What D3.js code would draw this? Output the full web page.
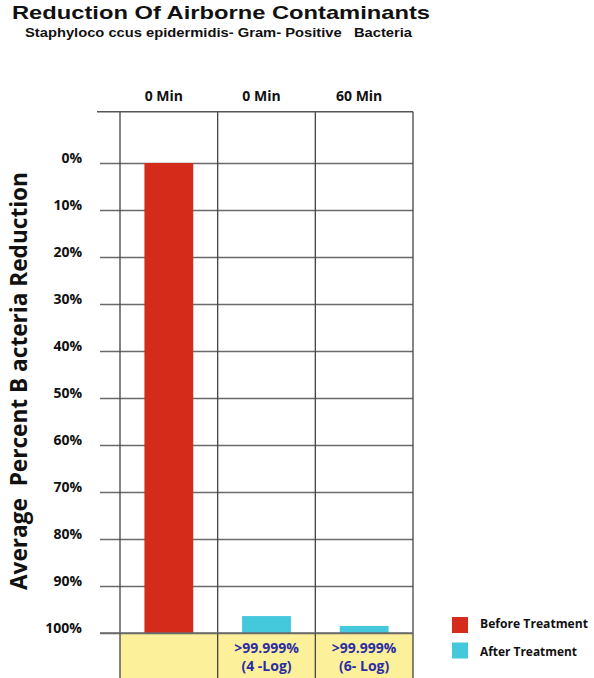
<!DOCTYPE html>
<html>
<head>
<meta charset="utf-8">
<script src="https://cdn.jsdelivr.net/npm/d3@7/dist/d3.min.js"></script>
<style>
  html, body { margin: 0; padding: 0; background: #fff; }
  svg { display: block; }
  text { font-family: "Open Sans", "Noto Sans", sans-serif; font-weight: 700; }
  text.head { font-family: "Liberation Sans", Arial, sans-serif; }
</style>
</head>
<body>
<svg id="chart" width="594" height="678"></svg>
<script>
// ---- data ----
const titleText = "Reduction Of Airborne Contaminants";
const subtitleText = "Staphyloco ccus epidermidis- Gram- Positive   Bacteria";
const yTitleText = "Average  Percent B acteria Reduction";
const categories = ["c1", "c2", "c3"];
const columnLabels = ["0 Min", "0 Min", "60 Min"];
const seriesNames = ["Before Treatment", "After Treatment"];
const barSeries = ["Before Treatment", "After Treatment", "After Treatment"];
const barValues = [100, 3.6, 1.5];   // bar height measured up from the 100% line
const yTicks = [0, 10, 20, 30, 40, 50, 60, 70, 80, 90, 100];
const bottomLabels = [[], [">99.999%", "(4 -Log)"], [">99.999%", "(6- Log)"]];

const colors = { "Before Treatment": "#d52b1a", "After Treatment": "#44c8dc" };

// ---- layout ----
const svg = d3.select("#chart");
const W = 594, H = 678;
const left = 120, right = 413;
const y = d3.scaleLinear().domain([0, 100]).range([163, 633]);
const topY = y(-10.9);
const xCol = d3.scaleBand().domain(categories).range([left, right]).padding(0);
const xBar = d3.scaleBand().domain(categories).range([left, right]).paddingInner(0.5).paddingOuter(0.25);

// yellow band
svg.append("rect").attr("x", left).attr("y", y(100)).attr("width", right - left)
  .attr("height", H - y(100)).attr("fill", "#fdf09b");

// horizontal grid / y axis
const yAxis = d3.axisLeft(y).tickValues(yTicks).tickFormat(d => d + "%")
  .tickSize(-(right - 100)).tickPadding(18);
const gy = svg.append("g").attr("transform", "translate(100,0)").call(yAxis);
gy.select(".domain").remove();
gy.selectAll(".tick line").attr("stroke", "#6a6a6a").attr("stroke-width", 1.3);
gy.selectAll(".tick text").attr("dy", 0).attr("y", -1)
  .attr("font-size", 14).attr("fill", "#111");

// top line
svg.append("line").attr("x1", 97).attr("x2", right).attr("y1", topY).attr("y2", topY)
  .attr("stroke", "#555").attr("stroke-width", 1.3);

// vertical column lines
const vx = categories.map(c => xCol(c)).concat([right]);
svg.selectAll(".vline").data(vx).join("line")
  .attr("x1", d => d).attr("x2", d => d).attr("y1", topY).attr("y2", H)
  .attr("stroke", "#444").attr("stroke-width", 1.3);

// bars
svg.selectAll(".bar").data(categories).join("rect")
  .attr("x", c => xBar(c))
  .attr("width", xBar.bandwidth())
  .attr("y", (c, i) => y(100 - barValues[i]))
  .attr("height", (c, i) => y(100) - y(100 - barValues[i]))
  .attr("fill", (c, i) => colors[barSeries[i]]);

// redraw 100% line on top of bars
svg.append("line").attr("x1", 100).attr("x2", right).attr("y1", y(100)).attr("y2", y(100))
  .attr("stroke", "#6a6a6a").attr("stroke-width", 1.3);

// column header labels
svg.selectAll(".colLabel").data(categories).join("text")
  .attr("x", c => xCol(c) + xCol.bandwidth() / 2 - 5)
  .attr("y", 101)
  .attr("text-anchor", "middle")
  .attr("font-size", 14).attr("fill", "#111")
  .text((c, i) => columnLabels[i]);

// bottom labels in yellow band
categories.forEach((c, i) => {
  bottomLabels[i].forEach((t, j) => {
    svg.append("text")
      .attr("x", xCol(c) + xCol.bandwidth() / 2)
      .attr("y", 653 + j * 17.5)
      .attr("text-anchor", "middle")
      .attr("font-size", 14).attr("fill", "#2b2da3")
      .text(t);
  });
});

// title & subtitle
svg.append("text").attr("class", "head").attr("x", 12).attr("y", 19).attr("font-size", 19)
  .attr("textLength", 418).attr("lengthAdjust", "spacingAndGlyphs")
  .attr("fill", "#111").text(titleText);
svg.append("text").attr("class", "head").attr("x", 25).attr("y", 36.5).attr("font-size", 13.5)
  .attr("textLength", 387).attr("lengthAdjust", "spacingAndGlyphs")
  .attr("fill", "#111").style("white-space", "pre").text(subtitleText);

// y axis title
svg.append("text").attr("transform", "translate(27,381) rotate(-90)")
  .attr("text-anchor", "middle").attr("font-size", 23)
  .attr("textLength", 418).attr("lengthAdjust", "spacingAndGlyphs")
  .attr("fill", "#111").style("white-space", "pre").text(yTitleText);

// legend
const legend = svg.append("g");
seriesNames.forEach((s, i) => {
  legend.append("rect").attr("x", 452).attr("y", 617 + i * 25.5)
    .attr("width", 16).attr("height", 16).attr("fill", colors[s]);
  legend.append("text").attr("x", 480).attr("y", 628 + i * 28)
    .attr("font-size", 11.5).attr("fill", "#111")
    .attr("textLength", i === 0 ? 108 : 97).attr("lengthAdjust", "spacingAndGlyphs")
    .text(s);
});
</script>
</body>
</html>
